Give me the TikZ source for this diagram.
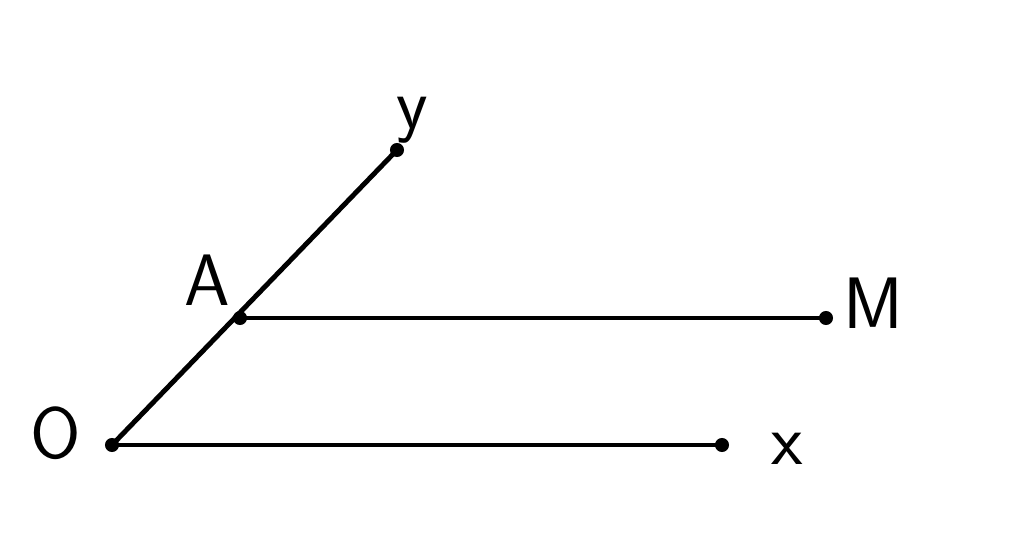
\documentclass[tikz,border=0pt]{standalone}
\usepackage{tikz}
\usetikzlibrary{positioning}

\tikzset{
    ray/.style={line width=1.4pt, line cap=round},
    pt/.style={circle, fill=black, inner sep=0pt, minimum size=4pt},
    lbl/.style={font=\huge\sffamily, inner sep=0pt}
}

\begin{document}
\begin{tikzpicture}
        \useasboundingbox (0,0) rectangle (10.24,5.51);
        \draw (1.12,1.06) node[pt] (O) {};
        \draw (7.22,1.06) node[pt] (xend) {};
        \draw (3.97,4.01) node[pt] (yend) {};
        \draw (2.40,2.33) node[pt] (A) {};
        \draw (8.26,2.33) node[pt] (Mend) {};
        \draw[ray] (O.center) -- (xend.center);
        \draw[ray] (O.center) -- (yend.center);
        \draw[ray] (A.center) -- (Mend.center);
        \node[lbl] (labO) at (0.56,1.18) {O};
        \node[lbl] (labx) at (7.87,1.02) {x};
        \node[lbl] (laby) at (4.12,4.31) {y};
        \node[lbl] (labA) at (2.07,2.71) {A};
        \node[lbl] (labM) at (8.73,2.48) {M};
    \end{tikzpicture}
\end{document}
